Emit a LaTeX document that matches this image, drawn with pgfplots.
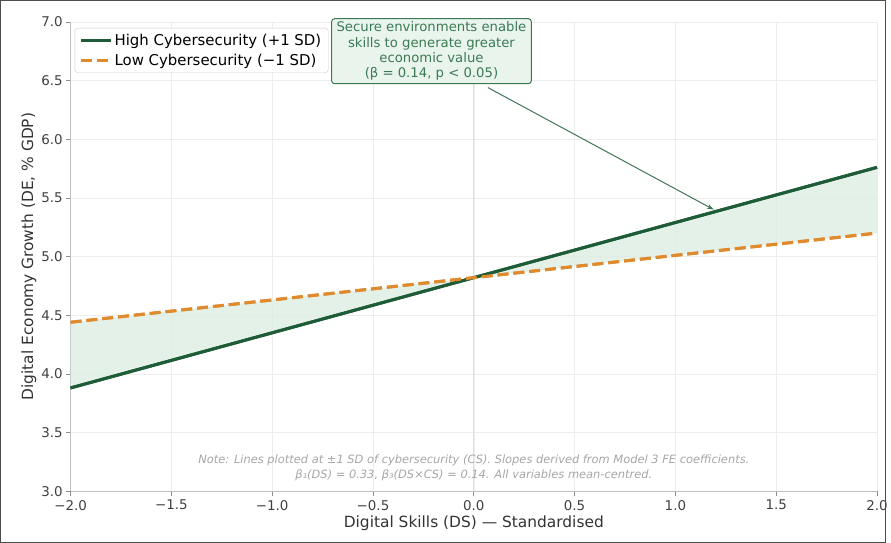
\documentclass[border=0pt]{standalone}
\usepackage{fontspec}
\setmainfont{DejaVu Sans}
\usepackage{pgfplots}
\pgfplotsset{compat=1.18}
\usepgfplotslibrary{fillbetween}
\usetikzlibrary{arrows.meta}
\definecolor{hi}{HTML}{1E5C38}
\definecolor{lo}{HTML}{E08A2E}
\definecolor{fillg}{HTML}{DCEDE2}
\definecolor{boxfill}{HTML}{E9F4EC}
\definecolor{boxtext}{HTML}{3C7A55}
\begin{document}
\begin{tikzpicture}
\begin{axis}[
  at={(0pt,0pt)}, anchor=south west,
  scale only axis, width=811pt, height=472pt,
  xmin=-2, xmax=2, ymin=3, ymax=7,
  clip=false,
  axis lines*=left,
  axis line style={black!25, line width=0.8pt},
  xtick={-2,-1.5,-1,-0.5,0,0.5,1,1.5,2},
  xticklabels={−2.0,−1.5,−1.0,−0.5,0.0,0.5,1.0,1.5,2.0},
  ytick={3,3.5,4,4.5,5,5.5,6,6.5,7},
  yticklabels={3.0,3.5,4.0,4.5,5.0,5.5,6.0,6.5,7.0},
  tick style={black!45, line width=0.7pt},
  major tick length=4.5pt,
  tick align=outside,
  ticklabel style={font=\fontsize{13.5}{15}\selectfont, text=black!75},
  xticklabel style={yshift=-1pt},
  grid=major,
  grid style={black!7, line width=0.5pt},
  xlabel={Digital Skills (DS) — Standardised},
  ylabel={Digital Economy Growth (DE, \% GDP)},
  label style={font=\fontsize{15.5}{17}\selectfont, text=black!80},
  xlabel style={yshift=1pt},
  ylabel style={yshift=-2pt},
  legend style={at={(0.005,0.987)}, anchor=north west,
    font=\fontsize{15}{17}\selectfont, draw=black!20, rounded corners=3pt,
    fill=white, fill opacity=0.9, text opacity=1, row sep=3pt,
    inner xsep=5pt, inner ysep=4pt},
  legend image code/.code={\draw[#1] (0pt,0pt) -- (30pt,0pt);},
  legend cell align=left,
]
\addplot[name path=H, hi, line width=3pt] coordinates {(-2,3.88) (2,5.76)};
\addlegendentry{High Cybersecurity (+1 SD)}
\addplot[name path=L, lo, line width=3pt, dash pattern=on 11pt off 5pt] coordinates {(-2,4.44) (2,5.20)};
\addlegendentry{Low Cybersecurity (−1 SD)}
\addplot[fillg, fill opacity=0.8, draw=none, forget plot] fill between[of=H and L];
\addplot[black!12, line width=0.8pt, forget plot] coordinates {(0,3) (0,7)};
\addplot[hi, line width=3pt, forget plot] coordinates {(-2,3.88) (2,5.76)};
\addplot[lo, line width=3pt, dash pattern=on 11pt off 5pt, forget plot] coordinates {(-2,4.44) (2,5.20)};
\draw[hi!85, line width=1pt, -{Stealth[length=7pt,width=5pt]}] (axis cs:0.07,6.44) -- (axis cs:1.19,5.40);
\node[fill=boxfill, draw=boxtext, line width=1pt, rounded corners=3pt, align=center,
  text=boxtext, font=\fontsize{13.3}{15.5}\selectfont, inner xsep=5pt, inner ysep=3pt]
  at (axis cs:-0.21,6.75) {Secure environments enable\\skills to generate greater\\economic value\\(β = 0.14, p < 0.05)};
\node[align=center, text=black!35, font=\itshape\fontsize{11.5}{14.5}\selectfont]
  at (axis cs:0,3.2) {Note: Lines plotted at ±1 SD of cybersecurity (CS). Slopes derived from Model 3 FE coefficients.\\β₁(DS) = 0.33, β₃(DS×CS) = 0.14. All variables mean-centred.};
\end{axis}
\draw[black!70, line width=1.2pt] (-70.4pt,-51.4pt) rectangle (819.4pt,493.4pt);
\end{tikzpicture}
\end{document}
